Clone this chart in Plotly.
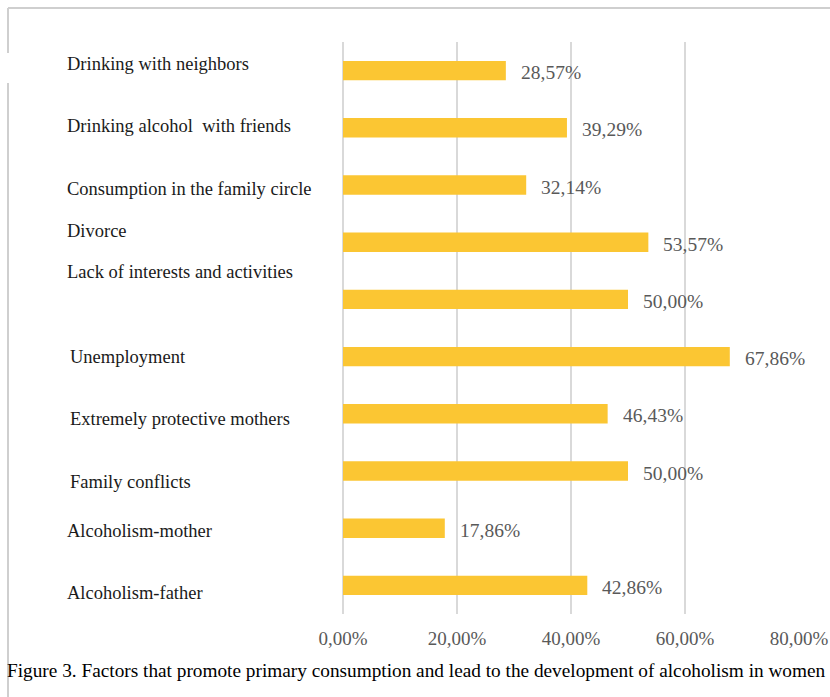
import plotly.graph_objects as go

# Survey results: share of respondents naming each factor (percent)
factors = [
    "Drinking with neighbors",
    "Drinking alcohol  with friends",
    "Consumption in the family circle",
    "Divorce",
    "Lack of interests and activities",
    "Unemployment",
    "Extremely protective mothers",
    "Family conflicts",
    "Alcoholism-mother",
    "Alcoholism-father",
]
shares = [28.57, 39.29, 32.14, 53.57, 50.00, 67.86, 46.43, 50.00, 17.86, 42.86]
tick_values = [0, 20, 40, 60, 80]
tick_labels = ["0,00%", "20,00%", "40,00%", "60,00%", "80,00%"]

caption = ("Figure 3. Factors that promote primary consumption and lead to the "
           "development of alcoholism in women")

# Page geometry (pixels)
W, H = 830, 697
M_L, M_R, M_T, M_B = 343, 31, 42, 83
PLOT_W = W - M_L - M_R
PLOT_H = H - M_T - M_B

# Category label placement: left edge in page pixels, vertical offset from bar centre
label_left_px = [65, 65, 65, 65, 65, 68, 68, 68, 65, 65]
label_yshift = [7, 2, -4, 11, 27, 0, -5, -11, -3, -8]

SERIF = "Liberation Serif, Times New Roman, serif"
BAR_COLOR = "#FBC633"
GRID_COLOR = "#D9D9D9"
VALUE_COLOR = "#595959"


def px_to_paper_x(px):
    return (px - M_L) / PLOT_W


def px_to_paper_y(py):
    return (H - M_B - py) / PLOT_H


fig = go.Figure(
    go.Bar(
        x=shares,
        y=factors,
        orientation="h",
        marker=dict(color=BAR_COLOR, line=dict(width=0)),
        hoverinfo="skip",
    )
)

annotations = []
# Category names on the left
for name, lx, ys in zip(factors, label_left_px, label_yshift):
    annotations.append(dict(
        x=0, xref="paper", y=name, yref="y",
        xshift=lx - M_L, yshift=ys,
        xanchor="left", yanchor="middle",
        text=name, showarrow=False,
        font=dict(family=SERIF, size=18.5, color="#1a1a1a"),
    ))
# Value labels to the right of each bar
for name, v in zip(factors, shares):
    annotations.append(dict(
        x=v, xref="x", y=name, yref="y",
        xshift=13, yshift=-2,
        xanchor="left", yanchor="middle",
        text=f"{v:.2f}".replace(".", ",") + "%", showarrow=False,
        font=dict(family=SERIF, size=19.5, color=VALUE_COLOR),
    ))
# Figure caption
annotations.append(dict(
    x=px_to_paper_x(5), xref="paper", y=px_to_paper_y(670), yref="paper",
    xanchor="left", yanchor="middle",
    text=caption, showarrow=False,
    font=dict(family=SERIF, size=19.3, color="#000000"),
))

# Light frame around the figure (top and left edges)
frame = dict(color="#CFCFCF", width=2)
shapes = [
    dict(type="line", xref="paper", yref="paper",
         x0=px_to_paper_x(8), x1=px_to_paper_x(W + 5),
         y0=px_to_paper_y(8), y1=px_to_paper_y(8), line=frame),
    dict(type="line", xref="paper", yref="paper",
         x0=px_to_paper_x(8), x1=px_to_paper_x(8),
         y0=px_to_paper_y(8), y1=px_to_paper_y(53), line=frame),
    dict(type="line", xref="paper", yref="paper",
         x0=px_to_paper_x(8), x1=px_to_paper_x(8),
         y0=px_to_paper_y(83), y1=px_to_paper_y(H + 5), line=frame),
]

fig.update_layout(
    width=W, height=H,
    margin=dict(l=M_L, r=M_R, t=M_T, b=M_B, pad=0, autoexpand=False),
    paper_bgcolor="white", plot_bgcolor="white",
    bargap=0.66,
    showlegend=False,
    annotations=annotations,
    shapes=shapes,
    xaxis=dict(
        range=[0, 80],
        tickmode="array", tickvals=tick_values, ticktext=tick_labels,
        showgrid=True, gridcolor=GRID_COLOR, gridwidth=1.5,
        zeroline=True, zerolinecolor=GRID_COLOR, zerolinewidth=1.5,
        showline=False, ticks="",
        ticklabelstandoff=11,
        automargin=False,
        tickfont=dict(family=SERIF, size=19, color=VALUE_COLOR),
        fixedrange=True,
    ),
    yaxis=dict(
        categoryorder="array", categoryarray=factors,
        autorange="reversed",
        showticklabels=False, showgrid=False, zeroline=False,
        showline=False, ticks="",
        automargin=False,
        fixedrange=True,
    ),
)

fig.write_html("out.html")
